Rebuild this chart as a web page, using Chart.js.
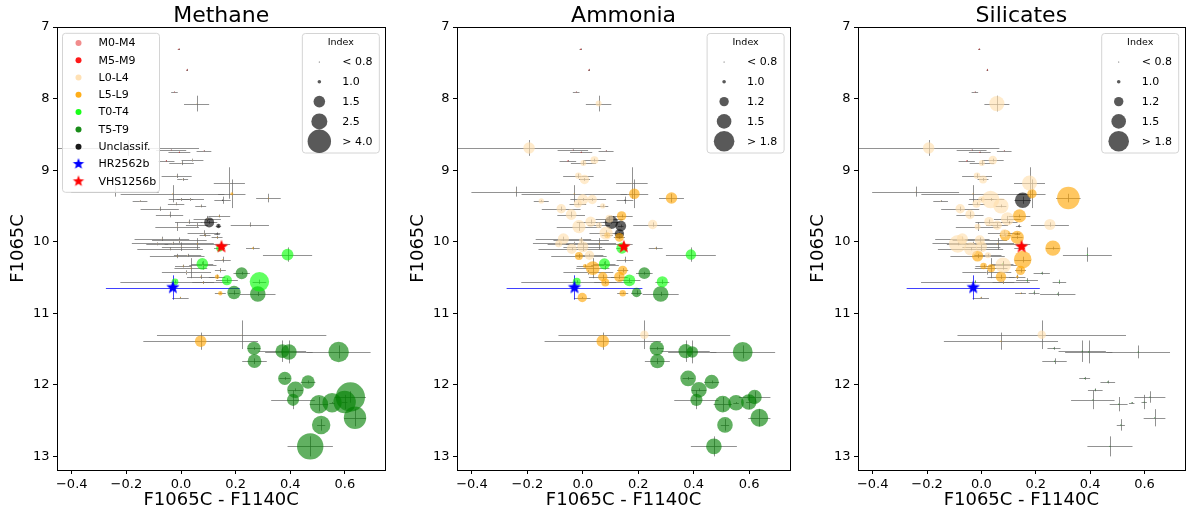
<!DOCTYPE html>
<html>
<head>
<title>Spectral index colour-magnitude diagrams</title>
<script src="https://cdn.jsdelivr.net/npm/chart.js@4.4.0/dist/chart.umd.min.js"></script>
<style>
    body { margin: 0; background: #fff; font-family: "DejaVu Sans", sans-serif; }
    .panel { position: absolute; top: 0; height: 515px; }
</style>
</head>
<body>
<div class="panel" style="left:0px;width:400px"><canvas id="c0" width="400" height="515"></canvas></div>
<div class="panel" style="left:400px;width:400px"><canvas id="c1" width="400" height="515"></canvas></div>
<div class="panel" style="left:800px;width:396px"><canvas id="c2" width="396" height="515"></canvas></div>
<script>
// ---- data ----
const panelTitles = ['Methane', 'Ammonia', 'Silicates'];
const xTicks = [-0.4, -0.2, 0.0, 0.2, 0.4, 0.6];
const yTicks = [7, 8, 9, 10, 11, 12, 13];
const spectralTypes = ['M0-M4', 'M5-M9', 'L0-L4', 'L5-L9', 'T0-T4', 'T5-T9', 'Unclassif.'];

const methaneLevels = [0.8, 1.0, 1.5, 2.5, 4.0];
const methaneLevelLabels = ['< 0.8', '1.0', '1.5', '2.5', '> 4.0'];
const otherLevels = [0.8, 1.0, 1.2, 1.5, 1.8];
const otherLevelLabels = ['< 0.8', '1.0', '1.2', '1.5', '> 1.8'];

// one entry per object (same objects in all three panels)
const objX = [
    -0.008, 0.022, -0.024, 0.057, -0.194, -0.036, -0.006, 0.084, -0.054, 0.002,
    0.042, -0.016, 0.006, 0.177, -0.242, -0.031, 0.186, 0.320, -0.150, 0.000,
    0.034, 0.072, -0.018, -0.078, -0.042, 0.140, 0.096, 0.103, 0.137, 0.132,
    0.152, 0.252, 0.028, -0.014, 0.058, 0.084, 0.088, 0.132, -0.070, -0.087,
    -0.040, 0.000, -0.006, -0.014, 0.024, 0.080, 0.078, 0.141, 0.263, 0.390,
    0.036, 0.008, 0.072, 0.132, 0.144, 0.081, 0.152, 0.168, 0.222, 0.287,
    -0.022, 0.194, 0.281, 0.144, -0.002, 0.072, 0.222, 0.020, -0.030, 0.060,
    0.267, 0.269, 0.371, 0.395, 0.577, 0.380, 0.465, 0.419, 0.410, 0.505,
    0.553, 0.599, 0.620, 0.637, 0.513, 0.473
];
const objY = [
    7.31, 7.60, 7.91, 8.07, 8.69, 8.72, 8.75, 8.73, 8.87, 8.90,
    8.86, 9.08, 9.13, 9.18, 9.30, 9.33, 9.33, 9.39, 9.43, 9.41,
    9.41, 9.50, 9.47, 9.54, 9.62, 9.64, 9.68, 9.73, 9.78, 9.89,
    9.42, 9.76, 9.72, 9.79, 9.77, 9.88, 9.91, 9.94, 9.96, 10.03,
    10.10, 10.07, 9.98, 10.20, 10.19, 10.33, 10.31, 10.09, 10.09, 10.18,
    10.37, 10.34, 10.49, 10.49, 10.40, 10.57, 10.25, 10.54, 10.44, 10.56,
    10.56, 10.71, 10.73, 10.72, 10.78, 11.39, 11.30, 10.43, 10.02, 10.03,
    11.49, 11.67, 11.53, 11.54, 11.54, 11.91, 11.96, 12.07, 12.21, 12.27,
    12.25, 12.24, 12.17, 12.46, 12.56, 12.86
];
const objXErr = [
    0.004, 0.003, 0.012, 0.046, 0.260, 0.055, 0.040, 0.027, 0.030, 0.045,
    0.040, 0.055, 0.020, 0.057, 0.160, 0.190, 0.050, 0.045, 0.027, 0.045,
    0.050, 0.020, 0.030, 0.070, 0.050, 0.040, 0.050, 0.030, 0.010, 0.010,
    0.030, 0.070, 0.050, 0.080, 0.040, 0.060, 0.020, 0.020, 0.100, 0.040,
    0.120, 0.070, 0.100, 0.100, 0.050, 0.050, 0.040, 0.020, 0.025, 0.090,
    0.060, 0.030, 0.050, 0.030, 0.020, 0.040, 0.030, 0.040, 0.030, 0.025,
    0.200, 0.020, 0.065, 0.020, 0.030, 0.210, 0.310, 0.090, 0.150, 0.120,
    0.024, 0.045, 0.087, 0.087, 0.117, 0.020, 0.027, 0.027, 0.080, 0.033,
    0.010, 0.010, 0.057, 0.040, 0.015, 0.083
];
const objYErr = [
    0.010, 0.015, 0.010, 0.110, 0.110, 0.010, 0.010, 0.010, 0.010, 0.030,
    0.020, 0.030, 0.020, 0.220, 0.070, 0.120, 0.200, 0.060, 0.010, 0.020,
    0.020, 0.020, 0.020, 0.030, 0.040, 0.020, 0.040, 0.020, 0.020, 0.020,
    0.050, 0.030, 0.030, 0.060, 0.030, 0.040, 0.020, 0.020, 0.030, 0.020,
    0.020, 0.060, 0.040, 0.030, 0.020, 0.060, 0.030, 0.020, 0.020, 0.100,
    0.140, 0.020, 0.030, 0.030, 0.030, 0.020, 0.040, 0.030, 0.020, 0.030,
    0.020, 0.030, 0.030, 0.010, 0.010, 0.120, 0.200, 0.030, 0.020, 0.080,
    0.020, 0.040, 0.150, 0.160, 0.090, 0.020, 0.020, 0.020, 0.130, 0.100,
    0.010, 0.100, 0.080, 0.120, 0.080, 0.140
];
const objType = [
    'M5-M9', 'M5-M9', 'M0-M4', 'L0-L4', 'L0-L4', 'M0-M4', 'M5-M9', 'M0-M4', 'M5-M9', 'L0-L4',
    'L0-L4', 'L0-L4', 'L0-L4', 'L0-L4', 'L0-L4', 'L5-L9', 'L5-L9', 'L5-L9', 'L0-L4', 'L0-L4',
    'L0-L4', 'L0-L4', 'L0-L4', 'L0-L4', 'L0-L4', 'L5-L9', 'L0-L4', 'Unclassif.', 'Unclassif.', 'Unclassif.',
    'Unclassif.', 'L0-L4', 'L0-L4', 'L0-L4', 'L0-L4', 'L0-L4', 'L5-L9', 'L5-L9', 'L0-L4', 'L0-L4',
    'L0-L4', 'L0-L4', 'L0-L4', 'L5-L9', 'L0-L4', 'L0-L4', 'T0-T4', 'T0-T4', 'L5-L9', 'T0-T4',
    'L5-L9', 'L5-L9', 'L5-L9', 'L5-L9', 'L5-L9', 'L5-L9', 'L5-L9', 'T0-T4', 'T5-T9', 'T0-T4',
    'T0-T4', 'T5-T9', 'T5-T9', 'L5-L9', 'L5-L9', 'L5-L9', 'L0-L4', 'L0-L4', 'L0-L4', 'L5-L9',
    'T5-T9', 'T5-T9', 'T5-T9', 'T5-T9', 'T5-T9', 'T5-T9', 'T5-T9', 'T5-T9', 'T5-T9', 'T5-T9',
    'T5-T9', 'T5-T9', 'T5-T9', 'T5-T9', 'T5-T9', 'T5-T9'
];
const idxMethane = [
    0.7, 0.7, 0.7, 0.7, 0.75, 0.7, 0.7, 0.7, 0.7, 0.7,
    0.7, 0.7, 0.7, 0.7, 0.7, 0.7, 0.95, 0.7, 0.7, 0.7,
    0.7, 0.7, 0.7, 0.7, 0.7, 0.7, 0.7, 1.4, 1.05, 0.7,
    0.7, 0.7, 0.7, 0.7, 0.7, 0.7, 0.7, 0.7, 0.7, 0.7,
    0.7, 0.7, 0.7, 0.7, 0.7, 0.7, 1.5, 1.2, 0.85, 1.55,
    0.7, 0.7, 0.8, 1.05, 0.7, 0.7, 0.7, 1.4, 1.6, 3.2,
    1.2, 1.9, 2.4, 1.05, 0.7, 1.5, 0.7, 0.7, 0.7, 0.7,
    1.9, 2.0, 2.0, 2.4, 3.4, 1.9, 1.9, 2.6, 1.6, 3.0,
    3.2, 3.8, 5.2, 3.8, 3.0, 4.6
];
const idxAmmonia = [
    0.7, 0.7, 0.7, 1.08, 1.32, 0.7, 0.7, 0.7, 0.7, 1.08,
    1.15, 1.1, 1.2, 0.7, 0.7, 0.7, 1.27, 1.32, 1.06, 1.28,
    1.2, 1.06, 1.15, 1.2, 1.28, 1.2, 1.15, 1.42, 1.28, 1.2,
    0.7, 1.2, 1.26, 1.42, 1.08, 1.42, 1.08, 1.18, 1.3, 1.12,
    1.24, 1.3, 1.02, 1.15, 1.2, 0.8, 1.3, 1.3, 0.8, 1.26,
    1.45, 1.02, 1.2, 1.26, 1.2, 1.15, 0.8, 1.34, 1.34, 1.3,
    1.15, 1.2, 1.55, 1.1, 1.2, 1.38, 1.17, 0.7, 0.7, 0.7,
    1.48, 1.48, 1.48, 1.32, 1.76, 1.55, 1.48, 1.55, 1.36, 1.6,
    1.55, 1.55, 1.48, 1.66, 1.55, 1.55
];
const idxSilicates = [
    0.7, 0.7, 0.7, 1.53, 1.32, 0.7, 0.7, 0.7, 0.7, 1.08,
    1.17, 1.1, 1.15, 1.52, 0.7, 0.7, 1.2, 1.9, 0.75, 1.1,
    1.65, 1.53, 1.15, 1.2, 1.2, 1.42, 1.42, 0.7, 0.7, 0.7,
    1.55, 1.3, 1.2, 1.08, 1.2, 1.15, 1.3, 1.42, 1.3, 1.65,
    1.42, 1.3, 1.24, 1.3, 1.08, 1.55, 0.7, 0.7, 1.53, 0.75,
    1.15, 1.1, 1.26, 0.9, 1.2, 0.7, 1.65, 0.7, 0.7, 0.7,
    0.7, 0.7, 0.7, 0.7, 0.7, 0.7, 1.17, 0.7, 0.7, 0.7,
    0.75, 0.75, 0.75, 0.75, 0.75, 0.75, 0.75, 0.75, 0.75, 0.75,
    0.75, 0.75, 0.75, 0.75, 0.75, 0.75
];

const companionNames = ['HR2562b', 'VHS1256b'];
const companionX = [-0.03, 0.148];
const companionY = [10.64, 10.07];
const companionXErr = [0.245, 0.008];
const companionYErr = [0.17, 0.02];

// ---- styles ----
const typeColors = {
    'M0-M4': '240,128,128', 'M5-M9': '255,0,0', 'L0-L4': '255,222,173',
    'L5-L9': '255,165,0', 'T0-T4': '0,255,0', 'T5-T9': '0,128,0', 'Unclassif.': '0,0,0'
};
const companionColors = ['#0000ff', '#ff0000'];
const panelIndex = [idxMethane, idxAmmonia, idxSilicates];
const panelLevels = [methaneLevels, otherLevels, otherLevels];
const panelLevelLabels = [methaneLevelLabels, otherLevelLabels, otherLevelLabels];
const panelRadii = [[0.6, 1.8, 5.8, 8, 11.7], [0.6, 1.8, 4.7, 7.3, 10.3], [0.6, 1.8, 4.7, 7.3, 10.3]];
const yAxisWidth = [57, 57, 58];
const rightPad = [9, 9, 4];

Chart.defaults.font.family = '"DejaVu Sans", sans-serif';
Chart.defaults.color = '#000';

function radiusFor(v, levels, radii) {
    if (v <= levels[0]) return radii[0];
    for (let i = 1; i < levels.length; i++) {
        if (v <= levels[i]) {
            const t = (v - levels[i - 1]) / (levels[i] - levels[i - 1]);
            return radii[i - 1] + t * (radii[i] - radii[i - 1]);
        }
    }
    const n = levels.length - 1;
    const slope = (radii[n] - radii[n - 1]) / (levels[n] - levels[n - 1]);
    return radii[n] + (v - levels[n]) * slope;
}

function starImage(color, r) {
    const c = document.createElement('canvas');
    const s = Math.ceil(r * 2 + 2);
    c.width = c.height = s;
    const g = c.getContext('2d');
    g.beginPath();
    for (let k = 0; k < 10; k++) {
        const rr = k % 2 === 0 ? r : r * 0.42;
        const a = -Math.PI / 2 + k * Math.PI / 5;
        g.lineTo(s / 2 + rr * Math.cos(a), s / 2 + rr * Math.sin(a));
    }
    g.closePath();
    g.fillStyle = color;
    g.fill();
    return c;
}
const plotStars = companionColors.map(c => starImage(c, 7));
const legendStars = companionColors.map(c => starImage(c, 6));

function buildDatasets(p) {
    const idx = panelIndex[p];
    const sets = [{
        label: 'companions',
        data: companionX.map((x, i) => ({ x: x, y: companionY[i] })),
        pointStyle: plotStars,
        pointRadius: 7,
        borderWidth: 0
    }];
    spectralTypes.forEach(t => {
        const ids = objType.map((tt, i) => tt === t ? i : -1).filter(i => i >= 0);
        sets.push({
            label: t,
            data: ids.map(i => ({ x: objX[i], y: objY[i] })),
            pointRadius: ids.map(i => radiusFor(idx[i], panelLevels[p], panelRadii[p])),
            backgroundColor: 'rgba(' + typeColors[t] + ',0.62)',
            borderWidth: 0
        });
    });
    return sets;
}

const errorBars = {
    id: 'errorBars',
    beforeDatasetsDraw(chart) {
        const { ctx, chartArea: a, scales: { x, y } } = chart;
        ctx.save();
        ctx.beginPath();
        ctx.rect(a.left, a.top, a.right - a.left, a.bottom - a.top);
        ctx.clip();
        ctx.lineWidth = 1;
        function bar(xv, yv, xe, ye, color) {
            const px = x.getPixelForValue(xv), py = y.getPixelForValue(yv);
            ctx.strokeStyle = color;
            ctx.beginPath();
            ctx.moveTo(x.getPixelForValue(xv - xe), Math.round(py) + 0.5);
            ctx.lineTo(x.getPixelForValue(xv + xe), Math.round(py) + 0.5);
            ctx.moveTo(Math.round(px) + 0.5, y.getPixelForValue(yv - ye));
            ctx.lineTo(Math.round(px) + 0.5, y.getPixelForValue(yv + ye));
            ctx.stroke();
        }
        objX.forEach((v, i) => bar(v, objY[i], objXErr[i], objYErr[i], 'rgba(100,100,100,0.7)'));
        companionX.forEach((v, i) => bar(v, companionY[i], companionXErr[i], companionYErr[i],
            i === 0 ? 'rgba(0,0,255,0.75)' : 'rgba(255,0,0,0.75)'));
        ctx.restore();
    }
};

function roundBox(ctx, x, y, w, h) {
    const r = 3;
    ctx.beginPath();
    ctx.moveTo(x + r, y);
    ctx.arcTo(x + w, y, x + w, y + h, r);
    ctx.arcTo(x + w, y + h, x, y + h, r);
    ctx.arcTo(x, y + h, x, y, r);
    ctx.arcTo(x, y, x + w, y, r);
    ctx.closePath();
    ctx.fillStyle = 'rgba(255,255,255,0.85)';
    ctx.fill();
    ctx.strokeStyle = '#d4d4d4';
    ctx.lineWidth = 1;
    ctx.stroke();
}

function decorPlugin(p) {
    return {
        id: 'decor' + p,
        afterDraw(chart) {
            const { ctx, chartArea: a } = chart;
            ctx.save();
            // frame
            ctx.strokeStyle = '#000';
            ctx.lineWidth = 1;
            ctx.strokeRect(Math.round(a.left) + 0.5, Math.round(a.top) + 0.5,
                Math.round(a.right - a.left), Math.round(a.bottom - a.top));
            // title
            ctx.fillStyle = '#000';
            ctx.font = '22px "DejaVu Sans"';
            ctx.textAlign = 'center';
            ctx.textBaseline = 'alphabetic';
            ctx.fillText(panelTitles[p], (a.left + a.right) / 2, 22);

            // spectral type legend (first panel only)
            if (p === 0) {
                const bx = a.left + 5.5, by = a.top + 6.3;
                roundBox(ctx, bx, by, 97, 159);
                ctx.font = '11px "DejaVu Sans"';
                ctx.textAlign = 'left';
                ctx.textBaseline = 'middle';
                const rows = spectralTypes.concat(companionNames);
                rows.forEach((name, k) => {
                    const cy = by + 9.6 + k * 17.3;
                    if (k < spectralTypes.length) {
                        ctx.fillStyle = 'rgba(' + typeColors[name] + ',0.9)';
                        ctx.beginPath();
                        ctx.arc(bx + 16, cy, 3, 0, Math.PI * 2);
                        ctx.fill();
                    } else {
                        const img = legendStars[k - spectralTypes.length];
                        ctx.drawImage(img, bx + 16 - img.width / 2, cy - img.height / 2);
                    }
                    ctx.fillStyle = '#000';
                    ctx.fillText(name, bx + 36, cy + 0.5);
                });
            }

            // index size legend
            const bw = 77, bh = 119.5;
            const ix = a.right - 6 - bw, iy = a.top + 6.5;
            roundBox(ctx, ix, iy, bw, bh);
            ctx.fillStyle = '#000';
            ctx.font = '9.5px "DejaVu Sans"';
            ctx.textAlign = 'center';
            ctx.textBaseline = 'middle';
            ctx.fillText('Index', ix + bw / 2, iy + 9.5);
            ctx.font = '11px "DejaVu Sans"';
            ctx.textAlign = 'left';
            panelLevels[p].forEach((lv, k) => {
                const cy = iy + 28.5 + k * 19.8;
                ctx.fillStyle = 'rgba(0,0,0,0.65)';
                ctx.beginPath();
                ctx.arc(ix + 17, cy, radiusFor(lv, panelLevels[p], panelRadii[p]), 0, Math.PI * 2);
                ctx.fill();
                ctx.fillStyle = '#000';
                ctx.fillText(panelLevelLabels[p][k], ix + 40, cy + 0.5);
            });
            ctx.restore();
        }
    };
}

function makeChart(p) {
    return new Chart(document.getElementById('c' + p), {
        type: 'scatter',
        data: { datasets: buildDatasets(p) },
        options: {
            responsive: false,
            animation: false,
            events: [],
            layout: { padding: { top: 27, right: rightPad[p], left: 0, bottom: 0 } },
            plugins: { legend: { display: false }, tooltip: { enabled: false } },
            scales: {
                x: {
                    type: 'linear',
                    min: -0.454,
                    max: 0.748,
                    afterFit: s => { s.height = 45; },
                    afterBuildTicks: s => { s.ticks = xTicks.map(v => ({ value: v })); },
                    ticks: {
                        autoSkip: false, maxRotation: 0, padding: 3,
                        font: { size: 13 }, color: '#000',
                        callback: v => (v < -1e-9 ? '\u2212' : '') + Math.abs(v).toFixed(1)
                    },
                    grid: { display: true, drawOnChartArea: false, drawTicks: true, tickLength: 4, tickColor: '#000' },
                    border: { display: true, color: '#000' },
                    title: { display: true, text: 'F1065C - F1140C', font: { size: 18 }, padding: { top: 0, bottom: 4 } }
                },
                y: {
                    type: 'linear',
                    reverse: true,
                    min: 7,
                    max: 13.19,
                    afterFit: s => { s.width = yAxisWidth[p]; },
                    afterBuildTicks: s => { s.ticks = yTicks.map(v => ({ value: v })); },
                    ticks: {
                        autoSkip: false, padding: 3.5,
                        font: { size: 13 }, color: '#000',
                        callback: v => String(v)
                    },
                    grid: { display: true, drawOnChartArea: false, drawTicks: true, tickLength: 4, tickColor: '#000' },
                    border: { display: true, color: '#000' },
                    title: { display: true, text: 'F1065C', font: { size: 18 }, padding: { top: 7.5, bottom: 0 } }
                }
            }
        },
        plugins: [errorBars, decorPlugin(p)]
    });
}

[0, 1, 2].forEach(makeChart);
</script>
</body>
</html>
